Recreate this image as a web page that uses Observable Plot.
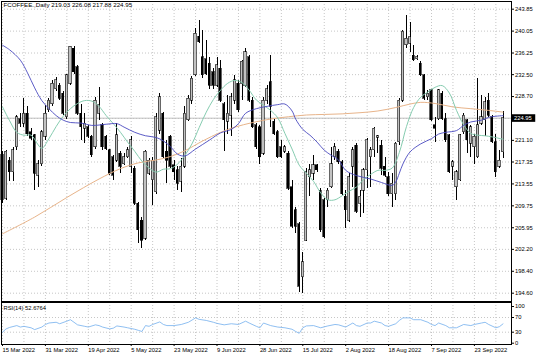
<!DOCTYPE html>
<html><head><meta charset="utf-8">
<script src="https://cdn.jsdelivr.net/npm/d3@7"></script>
<script src="https://cdn.jsdelivr.net/npm/@observablehq/plot@0.6"></script>
<style>
body{margin:0;background:#fff;}
#chart{position:relative;width:536px;height:354px;background:#fff;overflow:hidden;}
#chart svg{position:absolute;left:0;}
</style></head><body><div id="chart"></div>
<script>
const title = "FCOFFEE.,Daily 219.03 226.08 217.88 224.95";
const rsiTitle = "RSI(14) 52.6764";

const openP = [218.5,211.0,217.6,215.6,219.9,224.8,224.0,225.7,222.5,222.0,215.0,217.0,221.7,226.3,227.4,230.0,230.6,229.2,225.1,230.9,
237.0,233.8,225.7,223.1,223.4,221.7,219.9,225.7,223.7,221.7,219.4,218.2,217.6,218.8,217.0,218.2,216.5,216.2,210.1,207.2,
204.0,215.3,214.2,212.1,222.8,225.7,219.1,221.7,216.8,215.9,213.9,216.5,224.6,228.0,232.4,239.1,235.5,235.2,234.4,232.9,
230.6,233.5,227.4,224.3,225.4,228.0,230.9,230.9,230.6,235.5,228.0,223.7,223.4,218.8,228.0,231.2,224.3,222.5,219.9,219.1,
218.8,213.0,209.0,206.6,197.4,203.7,214.7,215.3,216.8,212.4,210.7,210.7,213.0,218.2,219.1,217.3,211.3,207.2,216.5,220.2,
210.1,212.4,215.9,218.2,219.4,221.6,220.2,216.5,214.7,211.8,211.8,220.8,228.0,237.6,237.9,235.8,235.2,234.4,232.4,228.6,
229.8,223.7,224.8,229.2,224.8,222.0,216.5,213.0,214.2,222.5,224.6,220.5,219.9,218.2,224.0,224.6,228.0,225.1,220.8,216.5,219.03];
const highP = [219.1,219.4,218.2,219.9,225.4,225.7,228.3,226.9,223.1,222.2,217.6,222.8,227.2,228.3,231.5,232.0,230.9,229.5,232.6,237.4,
237.3,234.1,227.4,225.7,223.7,222.0,228.6,230.2,224.0,222.0,219.6,218.5,224.0,219.1,218.8,219.9,221.7,216.5,210.4,207.8,
219.4,217.9,218.2,225.7,229.2,226.0,221.1,222.0,217.6,216.5,217.9,226.9,228.9,232.1,240.5,241.9,240.2,238.4,235.5,233.5,
235.5,235.0,227.7,228.9,229.2,232.4,231.5,235.0,237.0,235.8,228.6,224.0,223.7,228.6,230.6,235.8,224.8,222.8,221.1,220.2,
219.1,214.2,209.5,206.9,201.7,216.2,217.0,218.5,217.0,212.7,211.0,212.7,219.9,220.5,219.6,217.6,212.4,215.3,219.9,220.5,
212.4,216.2,221.4,219.9,223.4,222.0,221.1,218.2,215.6,215.3,220.8,228.3,240.2,242.8,241.6,237.6,235.8,234.7,232.6,229.8,
230.0,225.1,230.0,229.5,225.7,222.2,217.6,215.9,222.2,225.7,224.8,223.7,222.2,231.8,228.9,228.6,229.2,225.4,222.2,219.4,226.08];
const lowP = [210.1,210.7,213.9,213.9,219.4,223.4,223.4,221.7,221.1,212.4,213.0,216.5,221.1,226.0,226.9,229.5,228.0,225.4,224.8,230.6,
232.6,225.4,221.1,220.5,221.4,218.2,219.6,224.6,219.4,219.4,215.0,214.2,217.3,215.3,216.8,217.9,215.3,209.8,203.2,202.3,
203.7,215.0,209.8,211.8,222.2,217.9,213.6,216.2,214.2,212.4,212.1,216.2,224.3,227.4,232.1,237.9,231.8,232.4,230.0,230.0,
230.3,227.7,219.1,222.2,221.7,227.4,226.0,228.0,230.3,227.7,223.1,219.6,217.0,218.5,227.4,223.4,222.0,217.9,217.9,218.8,
212.4,205.8,204.9,194.8,194.5,203.5,211.3,214.2,215.6,205.2,204.0,209.5,212.7,217.6,217.0,211.6,205.8,206.9,213.0,208.4,
207.8,208.4,212.7,213.0,218.2,218.8,215.0,214.7,211.3,209.5,210.7,220.2,227.7,237.0,236.4,234.7,234.9,232.1,228.0,228.0,
224.3,220.8,224.6,224.6,220.8,215.3,214.2,210.7,213.9,222.2,218.8,218.2,217.0,217.9,223.7,221.7,225.1,220.5,214.7,216.2,217.88];
const closeP = [210.7,219.1,215.6,219.4,225.1,224.0,225.7,222.2,221.4,215.3,217.0,222.5,225.7,228.0,230.9,231.5,228.3,225.7,232.4,237.3,
232.9,225.7,223.4,224.0,221.7,218.5,228.0,227.2,219.9,219.6,215.3,215.0,222.0,216.5,218.2,219.4,221.1,210.1,205.5,203.7,
219.1,217.6,217.6,225.1,228.6,218.2,217.6,216.5,215.6,213.6,216.5,225.7,228.3,231.8,239.6,238.1,232.4,232.6,230.6,230.6,
234.1,228.0,224.6,225.7,228.6,231.5,226.3,234.7,236.4,228.0,223.4,219.9,218.2,228.0,230.0,226.9,222.2,218.2,218.2,219.9,
212.7,206.1,206.1,195.7,200.0,215.6,215.9,216.8,215.9,205.5,204.3,212.4,217.0,219.9,217.3,211.8,209.0,214.7,219.4,208.7,
211.3,215.9,221.1,219.4,223.1,221.8,216.2,215.0,211.8,213.6,220.5,228.0,239.9,238.7,239.0,235.0,235.5,232.4,228.3,229.2,
224.6,223.1,229.8,224.8,221.1,215.6,217.3,215.6,222.0,225.4,221.1,223.4,221.7,223.7,225.1,227.7,225.4,220.8,215.6,217.6,224.95];

const blueBar = [0,2,5,7,9,11,13,15,17,19,22,25,29,32,34,37,40,43,45,47,49,51,54,58,61,64,66,68,71,74,77,79,81,82,84,86,88,90,92,94,96,99,103,106,109,110,111,112,114,117,120,122,124,127,129,131,134,136,140];
const blueVal = [237.6,236.8,235.0,232.8,230.2,228.0,226.6,225.4,224.6,224.2,224.1,223.7,223.9,224.0,223.4,222.5,221.9,221.6,221.0,220.0,218.7,218.4,219.6,221.2,222.4,223.0,224.0,225.8,226.6,227.0,227.3,227.4,226.2,224.8,223.0,222.0,220.8,219.4,218.5,217.7,215.9,215.0,214.4,213.8,213.3,213.9,215.4,217.0,219.1,220.5,221.4,222.2,222.5,222.8,223.7,224.3,224.6,225.1,225.4];
const greenBar = [0,2,4,6,8,10,11,13,15,17,19,21,23,25,27,29,31,33,35,37,39,41,43,45,47,49,51,53,55,57,59,61,63,65,67,69,71,73,75,77,79,81,83,85,87,89,91,93,95,97,99,101,103,105,107,109,111,113,115,117,119,121,123,125,127,129,131,133,135,137,140];
const greenVal = [226.9,224.5,222.5,222.0,222.0,220.3,219.7,221.4,223.5,225.3,226.6,227.5,228.0,227.9,227.0,225.4,224.0,222.5,220.8,219.2,217.5,216.3,215.6,216.1,216.2,217.0,218.5,220.5,223.3,226.0,228.2,229.8,231.0,231.5,231.1,229.8,228.1,227.2,226.3,225.0,222.3,219.6,216.8,215.4,214.0,212.0,210.8,210.8,211.5,212.3,213.0,214.3,215.2,215.9,215.9,216.3,219.0,223.5,226.8,228.6,229.5,230.3,230.6,229.3,226.3,223.8,222.3,222.0,221.9,221.7,221.3];
const tanBar = [0,9,18,27,33,38,43,47,51,56,61,65,70,75,80,85,90,95,100,105,110,114,117,121,126,131,136,140];
const tanVal = [204.9,207.8,211.2,214.4,216.2,217.2,217.7,218.3,219.3,221.0,222.5,223.4,224.2,224.8,225.2,225.5,225.6,225.7,225.9,226.2,226.8,227.4,227.7,227.5,226.9,226.6,226.3,226.0];
const rsiBar = [0,1,2,4,5,6,8,9,11,12,13,15,16,18,19,20,21,23,24,26,27,28,30,31,32,34,35,37,38,39,40,41,42,44,45,46,48,50,52,53,54,55,57,59,60,62,64,66,68,69,71,72,73,75,77,79,81,82,83,84,85,87,89,91,93,94,96,98,99,100,102,103,104,106,107,108,110,111,112,114,115,117,119,120,121,122,124,125,127,129,131,132,134,135,136,138,139,140];
const rsiVal = [30,39,43,48,44,46,42,37,44,51,55,57,53,60,64,57,50,46,44,50,48,44,39,41,47,44,42,38,35,32,48,46,51,58,51,48,48,51,57,63,69,65,62,57,54,50,53,51,60,55,46,42,55,48,44,42,38,32,27,42,47,48,42,47,51,50,44,55,48,46,55,55,60,55,48,46,53,62,69,69,64,64,57,51,48,55,48,42,42,51,48,51,55,57,51,42,45,52.68];

const priceTicks = [243.85,240.05,236.25,232.50,228.70,224.90,221.10,217.35,213.55,209.75,205.95,202.20,198.40,194.60];
const rsiTicks = [0,30,70,100];
const labelBars = [0,12,24,36,48,60,72,84,96,108,120,132];
const dateLabels = ["15 Mar 2022","31 Mar 2022","19 Apr 2022","5 May 2022","23 May 2022","9 Jun 2022","28 Jun 2022","15 Jul 2022","2 Aug 2022","18 Aug 2022","7 Sep 2022","23 Sep 2022"];

const candles = openP.map((o,i)=>({i, open:o, high:highP[i], low:lowP[i], close:closeP[i]}));
const lastBar = candles.length - 1;
const lastClose = closeP[lastBar];
const gridBars = d3.range(0, lastBar + 1, 6);
const labelMap = new Map(labelBars.map((b,k)=>[b, dateLabels[k]]));
const pts = (bars, vals) => bars.map((b,k)=>({b, v: vals[k]}));

const font = "'Liberation Sans', Arial, sans-serif";
const fs = 5.8;
const dotted = {stroke: "#c6c6c6", strokeDasharray: "1,2", strokeWidth: 1};
const style = {fontFamily: font, fontSize: fs + "px", background: "transparent", color: "#000", overflow: "visible"};
const xs = () => ({domain: [0, lastBar], range: [2, 2 + lastBar * 3.575], axis: null});

const main = Plot.plot({
  width: 536, height: 302,
  marginTop: 1, marginLeft: 1, marginRight: 25, marginBottom: 1,
  style,
  x: xs(),
  y: {domain: [194.60, 243.85], range: [292.7, 8.7]},
  marks: [
    Plot.ruleY(priceTicks, dotted),
    Plot.ruleX(gridBars, dotted),
    Plot.ruleY([lastClose], {stroke: "#c0c0c0"}),
    Plot.ruleX(candles, {x: "i", y1: "low", y2: "high", stroke: "#000", shapeRendering: "crispEdges"}),
    Plot.rect(candles, {x1: d => d.i - 0.31, x2: d => d.i + 0.31, y1: "open", y2: "close",
      fill: d => d.close >= d.open ? "#c2c2c2" : "#000", stroke: "#000", strokeWidth: 0.6, shapeRendering: "crispEdges"}),
    Plot.line(pts(tanBar, tanVal), {x: "b", y: "v", stroke: "#e8b48a", strokeWidth: 1, curve: "catmull-rom"}),
    Plot.line(pts(greenBar, greenVal), {x: "b", y: "v", stroke: "#86ccb0", strokeWidth: 1, curve: "catmull-rom"}),
    Plot.line(pts(blueBar, blueVal), {x: "b", y: "v", stroke: "#4a4ac0", strokeWidth: 0.9, curve: "catmull-rom"}),
    Plot.frame({stroke: "#000"}),
    Plot.axisY(priceTicks, {anchor: "right", label: null, tickSize: 2, tickPadding: 1.5, tickFormat: d => d.toFixed(2), fontSize: fs}),
    Plot.text([title], {frameAnchor: "top-left", dx: 2, dy: 1.2, lineAnchor: "top", textAnchor: "start", fontSize: 6.2}),
    Plot.text([lastClose], {y: d => d, frameAnchor: "right", dx: 2.5, textAnchor: "start", text: d => d.toFixed(2), fill: "#fff", fontSize: fs})
  ]
});

const rsiPlot = Plot.plot({
  width: 536, height: 52,
  marginTop: 0, marginLeft: 1, marginRight: 25, marginBottom: 10,
  style,
  x: xs(),
  y: {domain: [0, 100], range: [40.7, 4]},
  marks: [
    Plot.ruleX(gridBars, dotted),
    Plot.ruleY([30, 70], dotted),
    Plot.line(pts(rsiBar, rsiVal), {x: "b", y: "v", stroke: "#72aeee", strokeWidth: 0.8}),
    Plot.frame({stroke: "#000"}),
    Plot.axisY(rsiTicks, {anchor: "right", label: null, tickSize: 2, tickPadding: 1.5, fontSize: fs}),
    Plot.axisX(labelBars, {anchor: "bottom", label: null, tickSize: 2, tickPadding: 1, textAnchor: "start", tickFormat: d => labelMap.get(d), fontSize: fs}),
    Plot.text([rsiTitle], {frameAnchor: "top-left", dx: 2, dy: 3, lineAnchor: "top", textAnchor: "start", fontSize: fs})
  ]
});

const host = document.getElementById("chart");
main.style.top = "0px";
rsiPlot.style.top = "302px";
host.appendChild(main);
host.appendChild(rsiPlot);

const boxLabel = lastClose.toFixed(2);
main.querySelectorAll("text").forEach(function(t) {
  if (t.textContent.trim() !== boxLabel) return;
  const b = t.getBBox();
  const r = document.createElementNS("http://www.w3.org/2000/svg", "rect");
  r.setAttribute("x", b.x - 2.5);
  r.setAttribute("y", b.y - 0.8);
  r.setAttribute("width", b.width + 6);
  r.setAttribute("height", b.height + 1.6);
  r.setAttribute("fill", "#000");
  const tr = t.getAttribute("transform");
  if (tr) r.setAttribute("transform", tr);
  t.parentNode.insertBefore(r, t);
});
</script></body></html>
